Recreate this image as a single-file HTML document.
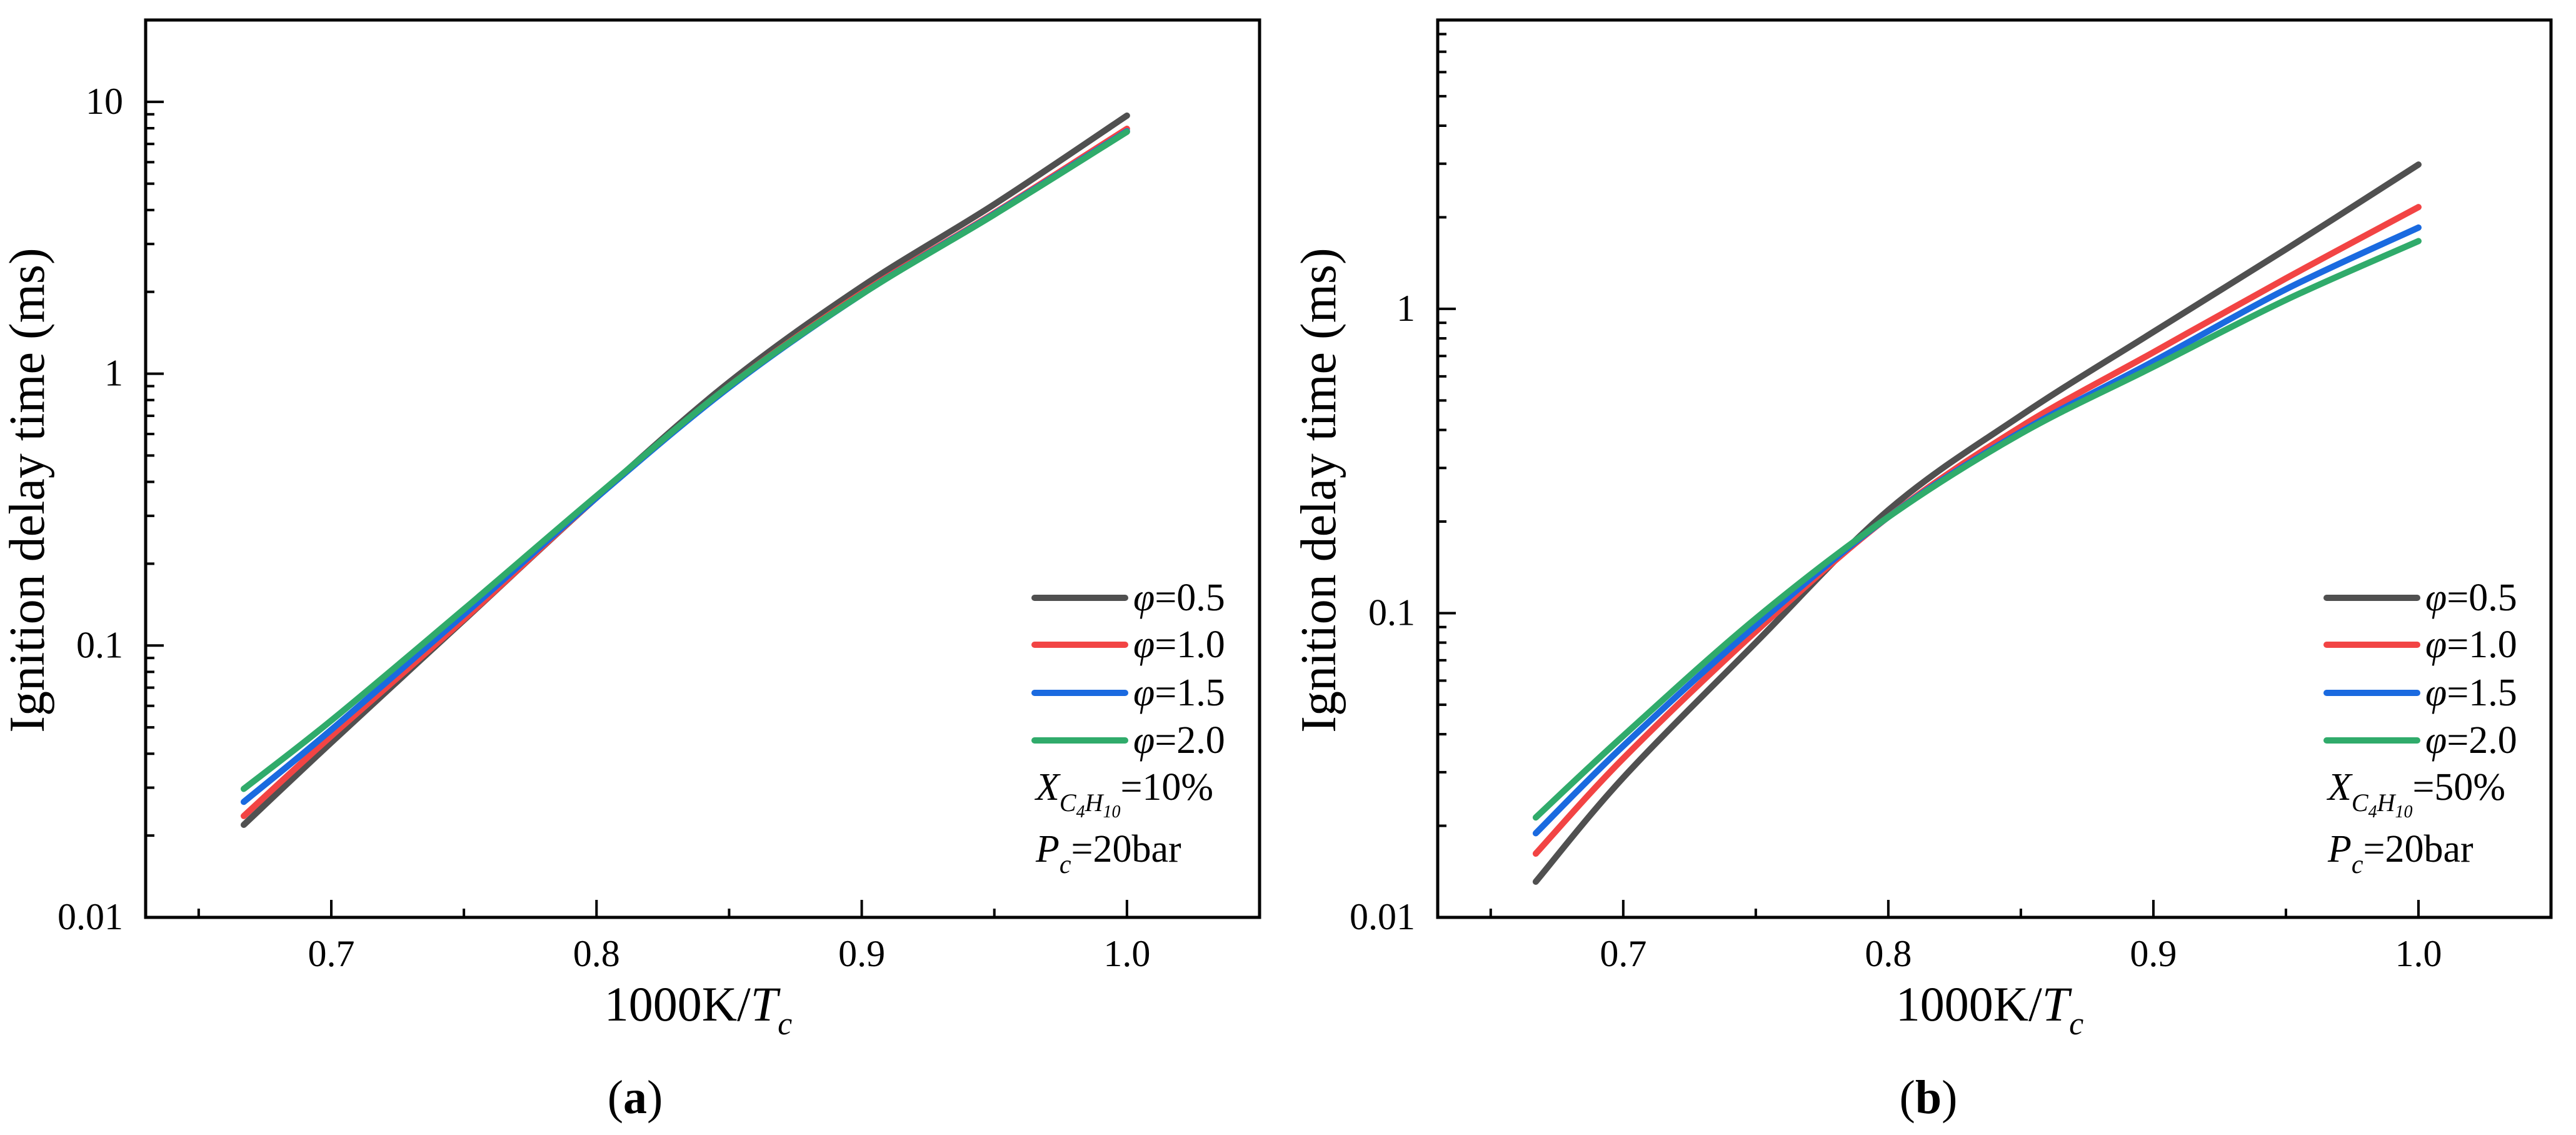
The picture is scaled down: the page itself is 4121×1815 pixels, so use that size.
<!DOCTYPE html>
<html><head><meta charset="utf-8"><style>
html,body{margin:0;padding:0;background:#fff}
svg{display:block;font-family:"Liberation Serif","Times New Roman",serif}
svg text{font-family:"Liberation Serif","Times New Roman",serif}
</style></head><body>
<svg id="fig" width="4121" height="1815" viewBox="0 0 4121 1815" xmlns="http://www.w3.org/2000/svg" font-family="Liberation Serif, serif"></svg>
<script>
const xValues = [0.667, 0.7, 0.75, 0.8, 0.85, 0.9, 0.95, 1.0];
// panel (a) X_C4H10 = 10%
const aPhi05 = [0.0219, 0.044, 0.124, 0.35, 0.93, 2.09, 4.2, 8.9];
const aPhi10 = [0.0236, 0.0465, 0.125, 0.35, 0.9, 1.98, 3.9, 7.96];
const aPhi15 = [0.0266, 0.049, 0.13, 0.35, 0.89, 1.96, 3.87, 7.8];
const aPhi20 = [0.0297, 0.053, 0.136, 0.355, 0.9, 1.96, 3.85, 7.76];
// panel (b) X_C4H10 = 50%
const bPhi05 = [0.0131, 0.0288, 0.080, 0.218, 0.446, 0.84, 1.57, 2.98];
const bPhi10 = [0.0162, 0.0333, 0.087, 0.207, 0.41, 0.72, 1.26, 2.16];
const bPhi15 = [0.0189, 0.0366, 0.091, 0.207, 0.394, 0.672, 1.16, 1.85];
const bPhi20 = [0.0213, 0.0395, 0.096, 0.207, 0.389, 0.645, 1.07, 1.67];
const seriesLabels = ["0.5", "1.0", "1.5", "2.0"];
const xTickLabels = ["0.7", "0.8", "0.9", "1.0"];
const yTickLabelsA = ["0.01", "0.1", "1", "10"];
const yTickLabelsB = ["0.01", "0.1", "1"];

const colors = ["#505050", "#f24444", "#1a6ae0", "#30ab6b"];
const NS = "http://www.w3.org/2000/svg";
const svg = document.getElementById("fig");
function mk(tag, attrs, parent, name) {
  const e = document.createElementNS(NS, tag);
  for (const k in attrs) e.setAttribute(k, attrs[k]);
  
  
  (parent || svg).appendChild(e);
  return e;
}
function panel(cfg) {
  const g = mk("g", {}, svg, cfg.name);
  const L = cfg.left, R = cfg.right, T = 32, B = 1467;
  const sx = v => L + (v - 0.63) / (1.05 - 0.63) * (R - L);
  const ly0 = -2, ly1 = Math.log10(cfg.ymax);
  const sy = v => B - (Math.log10(v) - ly0) / (ly1 - ly0) * (B - T);
  cfg.series.forEach((arr, si) => {
    const pts = xValues.map((x, i) => [sx(x), sy(arr[i])]);
    let d = "M" + pts[0][0] + "," + pts[0][1];
    for (let i = 0; i < pts.length - 1; i++) {
      const p0 = pts[Math.max(0, i - 1)], p1 = pts[i], p2 = pts[i + 1], p3 = pts[Math.min(pts.length - 1, i + 2)];
      const c1 = [p1[0] + (p2[0] - p0[0]) / 6, p1[1] + (p2[1] - p0[1]) / 6];
      const c2 = [p2[0] - (p3[0] - p1[0]) / 6, p2[1] - (p3[1] - p1[1]) / 6];
      d += " C" + c1 + " " + c2 + " " + p2;
    }
    mk("path", {d: d, fill: "none", stroke: colors[si], "stroke-width": 10, "stroke-linecap": "round", "stroke-linejoin": "round"}, g, "series-phi-" + seriesLabels[si]);
  });
  mk("rect", {x: L, y: T, width: R - L, height: B - T, fill: "none", stroke: "#000", "stroke-width": 5}, g, "plot-frame");
  for (let v = 0.65; v <= 1.0001; v += 0.05) {
    const major = Math.abs(v * 10 - Math.round(v * 10)) < 1e-6;
    const X = sx(v);
    mk("line", {x1: X, x2: X, y1: B, y2: B - (major ? 28 : 14), stroke: "#000", "stroke-width": 4}, g, major ? "x-major-tick" : "x-minor-tick");
  }
  xTickLabels.forEach(s => {
    const t = mk("text", {x: sx(parseFloat(s)), y: 1545, "font-size": 60, "text-anchor": "middle"}, g, "x-tick-label");
    t.textContent = s;
  });
  for (let e = -2; e <= 2; e++) {
    for (let m = 1; m <= 9; m++) {
      const v = m * Math.pow(10, e);
      const Y = sy(v);
      if (Y < T - 1 || Y > B + 1) continue;
      mk("line", {x1: L, x2: L + (m === 1 ? 29 : 14), y1: Y, y2: Y, stroke: "#000", "stroke-width": 4}, g, m === 1 ? "y-major-tick" : "y-minor-tick");
    }
  }
  cfg.yLabels.forEach(s => {
    const t = mk("text", {x: L - 36, y: sy(parseFloat(s)) + 19, "font-size": 60, "text-anchor": "end"}, g, "y-tick-label");
    t.textContent = s;
  });
  const yt = mk("text", {x: 0, y: 0, "font-size": 80, "text-anchor": "middle", transform: "translate(" + (cfg.ytx + 26) + ",784) rotate(-90)"}, g, "y-axis-title");
  yt.textContent = "Ignition delay time (ms)";
  const xt = mk("text", {x: cfg.xtx, y: 1632, "font-size": 78, "text-anchor": "middle"}, g, "x-axis-title");
  xt.innerHTML = '1000K/<tspan font-style="italic">T</tspan><tspan font-style="italic" font-size="52" dy="22">c</tspan>';
  const pl = mk("text", {x: cfg.plx, y: 1780, "font-size": 76, "text-anchor": "middle"}, g, "panel-label");
  pl.innerHTML = '(<tspan font-weight="bold">' + cfg.letter + '</tspan>)';
  const lg = mk("g", {}, g, "legend");
  const rows = [956, 1031, 1108, 1184];
  seriesLabels.forEach((s, i) => {
    mk("line", {x1: cfg.lgx, x2: cfg.lgx + 145, y1: rows[i], y2: rows[i], stroke: colors[i], "stroke-width": 10, "stroke-linecap": "round"}, lg, "legend-swatch");
    const t = mk("text", {x: cfg.lgx + 158, y: rows[i] + 20, "font-size": 62}, lg, "legend-entry");
    t.innerHTML = '<tspan font-style="italic">φ</tspan>=' + s;
  });
  const an = mk("text", {x: cfg.lgx + 2, y: 1279, "font-size": 62}, lg, "mole-fraction-note");
  an.innerHTML = '<tspan font-style="italic">X</tspan><tspan font-style="italic" font-size="40" dy="18">C</tspan><tspan font-style="italic" font-size="28" dy="10">4</tspan><tspan font-style="italic" font-size="40" dy="-10">H</tspan><tspan font-style="italic" font-size="28" dy="10">10</tspan><tspan dy="-28">=' + cfg.pct + '</tspan>';
  const pc = mk("text", {x: cfg.lgx + 2, y: 1378, "font-size": 62}, lg, "pressure-note");
  pc.innerHTML = '<tspan font-style="italic">P</tspan><tspan font-style="italic" font-size="42" dy="18">c</tspan><tspan dy="-18">=20bar</tspan>';
}
panel({name: "panel-a", left: 233, right: 2015, ymax: 20, series: [aPhi05, aPhi10, aPhi15, aPhi20], yLabels: yTickLabelsA, ytx: 44, xtx: 1117, plx: 1016, letter: "a", lgx: 1655, pct: "10%"});
panel({name: "panel-b", left: 2300, right: 4081, ymax: 8.9, series: [bPhi05, bPhi10, bPhi15, bPhi20], yLabels: yTickLabelsB, ytx: 2110, xtx: 3183, plx: 3085, letter: "b", lgx: 3722, pct: "50%"});
</script>
</body></html>
